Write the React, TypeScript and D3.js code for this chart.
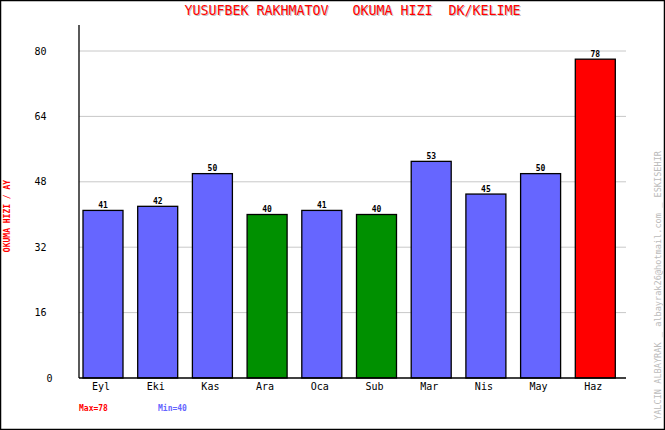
import React from "react";
import * as d3 from "d3";

const months = ["Eyl", "Eki", "Kas", "Ara", "Oca", "Sub", "Mar", "Nis", "May", "Haz"];
const values = [41, 42, 50, 40, 41, 40, 53, 45, 50, 78];
const yTicks = [0, 16, 32, 48, 64, 80];
const title = "YUSUFBEK RAKHMATOV   OKUMA HIZI  DK/KELIME";
const yLabel = "OKUMA HIZI / AY";
const sideNote = "YALCIN ALBAYRAK _ albayrak26@hotmail.com _ ESKISEHIR";

const W = 665;
const H = 430;
const left = 79;
const right = 626;
const top = 25;
const bottom = 378;
const mono = "'DejaVu Sans Mono', monospace";

export default function App() {
  const maxV = d3.max(values)!;
  const minV = d3.min(values)!;
  const x = d3.scaleBand<string>().domain(months).range([left, right]).padding(0);
  const y = d3.scaleLinear().domain([0, maxV * 1.1]).range([bottom, bottom - maxV * 1.1 * (327 / 80)]);
  const barW = 40;
  const off = 4;
  const color = (v: number) => (v === maxV ? "#ff0000" : v === minV ? "#009000" : "#6666ff");

  return (
    <svg width={W} height={H} style={{ position: "absolute", left: 0, top: 0, background: "#fff" }}>
      <rect x={0.5} y={0.5} width={W - 1} height={H - 1} fill="#fff" stroke="#000" strokeWidth={1.5} />
      {/* title */}
      <text x={(left + right) / 2 + 1} y={16} textAnchor="middle" fontFamily={mono} fontSize={13.3} fill="#c0c0c0" style={{ whiteSpace: "pre" }}>{title}</text>
      <text x={(left + right) / 2} y={15} textAnchor="middle" fontFamily={mono} fontSize={13.3} fill="#ff0000" style={{ whiteSpace: "pre" }}>{title}</text>
      {/* grid */}
      {yTicks.filter((t) => t > 0).map((t) => (
        <line key={t} x1={left} x2={right} y1={y(t)} y2={y(t)} stroke="#c8c8c8" strokeWidth={1} />
      ))}
      {yTicks.map((t) => (
        <text key={"t" + t} x={String(t).length === 1 ? 49.5 : 40.5} y={y(t) + 3.5} textAnchor="middle" fontFamily={mono} fontSize={10} fill="#000">{t}</text>
      ))}
      {/* bars */}
      {months.map((m, i) => {
        const v = values[i];
        const bx = x(m)! + off;
        return (
          <g key={m}>
            <rect x={bx} y={y(v)} width={barW} height={bottom - y(v)} fill={color(v)} stroke="#000" strokeWidth={1.3} />
            <text x={bx + barW / 2} y={y(v) - 2.5} textAnchor="middle" fontFamily={mono} fontSize={8} fontWeight="bold" fill="#000">{v}</text>
            <text x={bx + barW / 2 - 2} y={390} textAnchor="middle" fontFamily={mono} fontSize={10} fill="#000">{m}</text>
          </g>
        );
      })}
      {/* axes */}
      <line x1={left} x2={left} y1={top} y2={bottom} stroke="#000" strokeWidth={1.3} />
      <line x1={left} x2={right} y1={bottom} y2={bottom} stroke="#000" strokeWidth={1.3} />
      {/* y label */}
      <text transform={`translate(10,216) rotate(-90)`} textAnchor="middle" fontFamily={mono} fontSize={8} fontWeight="bold" fill="#ff0000">{yLabel}</text>
      {/* max/min */}
      <text x={79} y={411} fontFamily={mono} fontSize={8} fontWeight="bold" fill="#ff0000">{`Max=${maxV}`}</text>
      <text x={158} y={411} fontFamily={mono} fontSize={8} fontWeight="bold" fill="#6666ff">{`Min=${minV}`}</text>
      {/* side note */}
      <text transform={`translate(661,420) rotate(-90)`} textAnchor="start" fontFamily={mono} fontSize={8.6} fill="#bbbbbb">{sideNote}</text>
    </svg>
  );
}
